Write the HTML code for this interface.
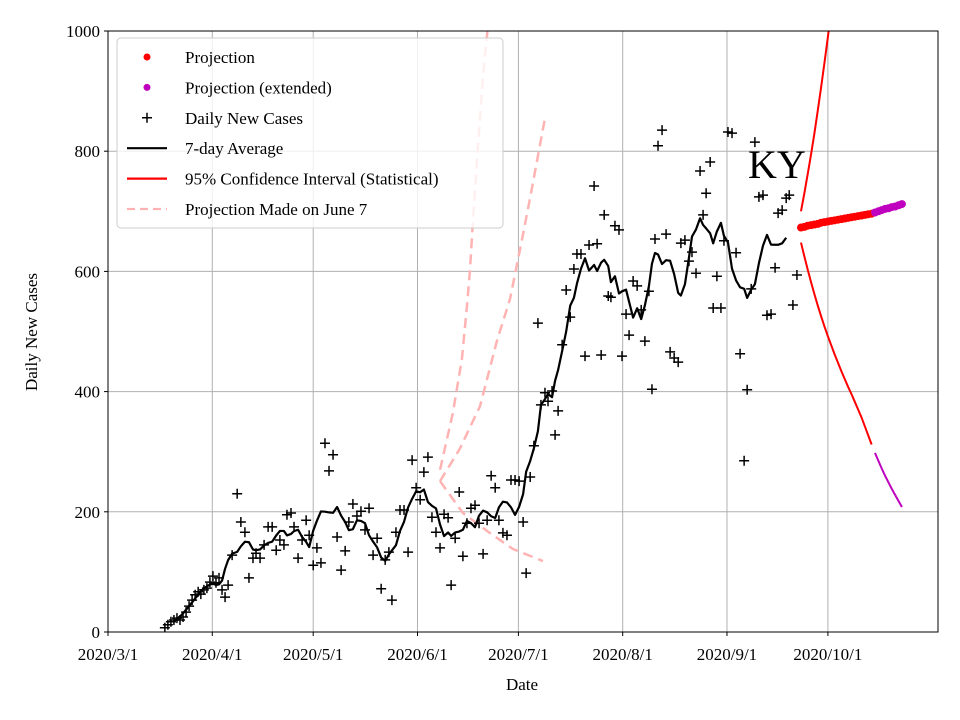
<!DOCTYPE html>
<html><head><meta charset="utf-8"><style>
body{margin:0;background:#fff;}
svg{display:block;font-family:"Liberation Serif",serif;}
</style></head><body>
<svg id="chart" width="960" height="720" xmlns="http://www.w3.org/2000/svg">
<g id="grid"></g>
<g id="plot"></g>
<g id="axes"></g>
<text x="748" y="178" font-size="40">KY</text>
<g id="legend"></g>
<text x="522" y="690" font-size="17" text-anchor="middle">Date</text>
<text transform="translate(37,332) rotate(-90)" font-size="17" text-anchor="middle">Daily New Cases</text>
</svg>
<script>
const caseDays = [16.9,17.8,18.7,19.6,20.5,21.4,22.3,23.2,24.1,25.0,25.9,26.8,27.6,28.5,29.4,30.3,31.2,32.1,33.0,33.9,34.8,35.7,36.9,38.4,39.5,40.7,41.9,43.1,44.0,45.2,46.4,47.6,48.8,50.0,51.1,52.3,53.2,54.4,55.3,56.5,57.7,58.9,59.8,61.0,62.1,63.3,64.5,65.7,66.9,68.1,69.3,70.5,71.6,72.8,74.0,75.2,76.4,77.6,78.8,80.0,81.2,82.4,83.5,84.4,85.6,86.8,88.0,89.2,90.4,91.6,92.8,93.9,95.1,96.3,97.5,98.7,99.9,101.1,102.0,103.2,104.4,105.5,106.7,107.9,109.1,110.3,111.5,112.7,113.9,115.1,116.2,117.4,118.6,119.8,121.0,122.2,123.4,124.3,125.5,126.6,127.8,128.7,129.9,130.8,132.0,132.9,133.8,135.0,136.2,137.4,138.5,139.4,140.6,141.8,143.0,144.5,145.4,146.6,147.5,148.7,149.5,150.7,151.9,152.8,154.0,154.9,156.1,157.3,158.5,159.6,160.8,161.7,162.6,163.5,164.7,165.9,167.1,168.3,169.5,170.3,171.5,172.7,173.6,174.8,176.0,176.9,177.8,179.0,179.9,181.0,182.2,183.1,184.3,185.5,186.7,187.9,189.1,190.0,191.2,192.3,193.5,194.7,195.9,197.1,198.3,199.2,200.4,201.6,202.5,203.6,204.8];
const dailyCases = [7,12,17,20,23,20,25,33,43,53,62,67,63,70,73,83,93,82,90,70,58,78,128,230,183,166,90,123,131,123,145,175,175,136,153,145,195,198,175,123,153,186,161,111,140,115,314,268,295,158,103,135,183,213,193,201,170,206,128,156,72,120,133,53,166,203,203,133,286,240,220,266,291,191,166,140,196,190,78,156,233,126,181,206,211,181,130,186,260,240,186,165,161,253,253,251,183,98,258,310,514,378,398,384,401,328,368,478,569,524,604,629,629,459,644,742,646,461,694,559,557,676,669,459,529,494,584,576,536,484,567,404,654,809,835,662,466,456,449,647,652,617,632,597,767,694,730,782,539,592,539,651,832,830,631,463,285,403,571,815,724,727,527,529,606,697,702,722,727,544,594];
const projDays = [206,207,208,209,210,211,212,213,214,215,216,217,218,219,220,221,222,223,224,225,226,227];
const projValues = [673,674,676,677,678,679,681,682,683,684,685,686,687,688,689,690,691,692,693,694,695,696];
const extDays = [228,229,230,231,232,233,234,235,236];
const extValues = [698,700,702,704,705,707,708,710,712];
const ciDays = [206,207,208,209,210,211,212,213,214,215,216,217,218,219,220,221,222,223,224,225,226,227];
const ciUpper = [700,730,762,795,830,868,907,948,990,1035,1080,1130,1180,1235,1290,1350,1410,1475,1540,1610,1680,1750];
const ciLower = [648,625,603,582,562,543,525,508,492,477,462,448,434,421,408,396,383,370,357,342,327,312];
const ciExtDays = [228,229,230,231,232,233,234,235,236];
const ciExtLower = [298,285,272,260,249,238,228,218,208];
const oldUpDays = [98.7,102.5,105.2,106.7,107.6,108.5,110,111.5,112.7,114];
const oldUpVals = [270,364,454,542,602,685,810,928,995,1080];
const oldMidDays = [98.7,104.6,110.6,115.6,119.5,122.5,125.4,127.8,129.9];
const oldMidVals = [251,305,376,484,554,637,720,792,855];
const oldLowDays = [98.7,105.5,112.7,120.4,129.3];
const oldLowVals = [251,198,168,138,118];
const yTicks = [0,200,400,600,800,1000];
const xTickDays = [0,31,61,92,122,153,184,214];
const xTickLabels = ["2020/3/1","2020/4/1","2020/5/1","2020/6/1","2020/7/1","2020/8/1","2020/9/1","2020/10/1"];

const NS="http://www.w3.org/2000/svg";
const L=108,R=938,T=31,B=632;
const X=d=>108+d*3.364;
const Y=v=>B-(v/1000)*(B-T);
function mk(tag,attrs,parent){const e=document.createElementNS(NS,tag);for(const k in attrs)e.setAttribute(k,attrs[k]);parent.appendChild(e);return e;}
const grid=document.getElementById('grid'),plot=document.getElementById('plot'),axes=document.getElementById('axes'),legend=document.getElementById('legend');
const clip=mk('clipPath',{id:'cp'},document.getElementById('chart'));
mk('rect',{x:L,y:T,width:R-L,height:B-T},clip);
plot.setAttribute('clip-path','url(#cp)');

yTicks.forEach(v=>{
  const g=mk('line',{x1:L,x2:R,y1:Y(v),y2:Y(v),stroke:'#b0b0b0','stroke-width':1},grid);
  
  
  mk('line',{x1:L-4,x2:L,y1:Y(v),y2:Y(v),stroke:'#000'},axes);
  const t=mk('text',{x:L-8,y:Y(v)+6,'font-size':17,'text-anchor':'end'},axes);
  t.textContent=v;
  
  
});
xTickDays.forEach((d,i)=>{
  const g=mk('line',{x1:X(d),x2:X(d),y1:T,y2:B,stroke:'#b0b0b0','stroke-width':1},grid);
  
  
  mk('line',{x1:X(d),x2:X(d),y1:B,y2:B+4,stroke:'#000'},axes);
  const t=mk('text',{x:X(d),y:B+28,'font-size':17,'text-anchor':'middle'},axes);
  t.textContent=xTickLabels[i];
  
  
});
const frame=mk('rect',{x:L,y:T,width:R-L,height:B-T,fill:'none',stroke:'#000','stroke-width':1},axes);



function line(days,vals,attrs,name){
  const p=mk('polyline',Object.assign({points:days.map((d,i)=>X(d)+','+Y(vals[i])).join(' '),fill:'none'},attrs),plot);
  
  
}
line(oldUpDays,oldUpVals,{stroke:'#ffb3b3','stroke-width':2.5,'stroke-dasharray':'10,6'},'june7-projection-upper');
line(oldMidDays,oldMidVals,{stroke:'#ffb3b3','stroke-width':2.5,'stroke-dasharray':'10,6'},'june7-projection-mid');
line(oldLowDays,oldLowVals,{stroke:'#ffb3b3','stroke-width':2.5,'stroke-dasharray':'10,6'},'june7-projection-lower');
const n=Math.min(caseDays.length,dailyCases.length);
for(let i=0;i<n;i++){
  const x=X(caseDays[i]),y=Y(dailyCases[i]);
  const p=mk('path',{d:`M${x-5},${y}H${x+5}M${x},${y-5}V${y+5}`,stroke:'#000','stroke-width':1.5},plot);
  
  
}
const avgD=[],avgV=[];
for(let i=3;i<n-3;i++){let s=0;for(let j=-3;j<=3;j++)s+=dailyCases[i+j];avgD.push(caseDays[i]);avgV.push(s/7);}
line(avgD,avgV,{stroke:'#000','stroke-width':2.2,'stroke-linejoin':'round'},'seven-day-average');
line(ciDays,ciUpper,{stroke:'#f00','stroke-width':2},'ci-upper');
line(ciDays,ciLower,{stroke:'#f00','stroke-width':2},'ci-lower');
line(ciExtDays,ciExtLower,{stroke:'#bf00bf','stroke-width':2},'ci-lower-extended');
projDays.forEach((d,i)=>{
  const c=mk('circle',{cx:X(d),cy:Y(projValues[i]),r:4,fill:'#f00'},plot);
  
  
});
extDays.forEach((d,i)=>{
  const c=mk('circle',{cx:X(d),cy:Y(extValues[i]),r:4,fill:'#bf00bf'},plot);
  
  
});
const lb=mk('rect',{x:117,y:38,width:386,height:190,rx:4,fill:'#fff','fill-opacity':0.8,stroke:'#ccc'},legend);


const items=[["Projection","dot","#f00"],["Projection (extended)","dot","#bf00bf"],["Daily New Cases","plus","#000"],["7-day Average","line","#000"],["95% Confidence Interval (Statistical)","line","#f00"],["Projection Made on June 7","dash","#ffb3b3"]];
items.forEach((it,i)=>{
  const y=57+i*30.4;
  const g=mk('g',{},legend);
  
  
  if(it[1]==='dot')mk('circle',{cx:147,cy:y,r:3.5,fill:it[2]},g);
  else if(it[1]==='plus')mk('path',{d:`M142,${y}H152M147,${y-5}V${y+5}`,stroke:'#000','stroke-width':1.5},g);
  else mk('line',{x1:127,x2:167,y1:y,y2:y,stroke:it[2],'stroke-width':2.2,'stroke-dasharray':it[1]==='dash'?'8,5':'none'},g);
  const t=mk('text',{x:185,y:y+6,'font-size':17},g);
  t.textContent=it[0];
});
</script>
</body></html>
